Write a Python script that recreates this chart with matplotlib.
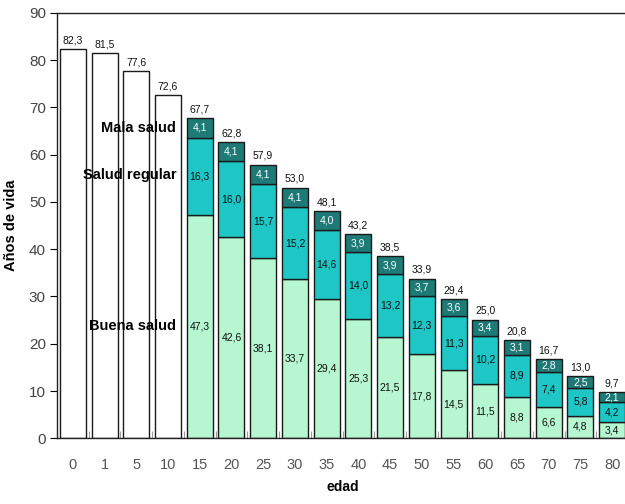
import numpy as np
import matplotlib.pyplot as plt

# edad groups and life expectancy (años de vida)
edades = ["0", "1", "5", "10", "15", "20", "25", "30", "35", "40",
          "45", "50", "55", "60", "65", "70", "75", "80"]
total = [82.3, 81.5, 77.6, 72.6, 67.7, 62.8, 57.9, 53.0, 48.1, 43.2,
         38.5, 33.9, 29.4, 25.0, 20.8, 16.7, 13.0, 9.7]

# breakdown by health state, available from age 15 onwards
buena = [47.3, 42.6, 38.1, 33.7, 29.4, 25.3, 21.5, 17.8, 14.5, 11.5, 8.8, 6.6, 4.8, 3.4]
regular = [16.3, 16.0, 15.7, 15.2, 14.6, 14.0, 13.2, 12.3, 11.3, 10.2, 8.9, 7.4, 5.8, 4.2]
mala = [4.1, 4.1, 4.1, 4.1, 4.0, 3.9, 3.9, 3.7, 3.6, 3.4, 3.1, 2.8, 2.5, 2.1]

C_BUENA = "#b6f6d0"
C_REGULAR = "#1ec6c6"
C_MALA = "#1d7a77"
EDGE = "#1a1a1a"
FONT = ["Liberation Sans", "DejaVu Sans"]


def fmt(v: float) -> str:
    return f"{v:.1f}".replace(".", ",")


fig = plt.figure(figsize=(6.25, 5.04), dpi=100)
ax = fig.add_axes([57 / 625, 65.7 / 504, 571 / 625, 425.5 / 504])

x = np.arange(len(edades))
w = 0.82
n_white = len(edades) - len(buena)

# white bars for the first ages (no breakdown)
ax.bar(x[:n_white], total[:n_white], width=w, color="white", edgecolor=EDGE, linewidth=1.0)

xs = x[n_white:]
b = np.array(buena)
r = np.array(regular)
m = np.array(mala)
ax.bar(xs, b, width=w, color=C_BUENA, edgecolor=EDGE, linewidth=1.0)
ax.bar(xs, r, width=w, bottom=b, color=C_REGULAR, edgecolor=EDGE, linewidth=1.0)
ax.bar(xs, m, width=w, bottom=b + r, color=C_MALA, edgecolor=EDGE, linewidth=1.0)

# totals above each bar
for xi, t, top in zip(x, total, list(total[:n_white]) + list(b + r + m)):
    ax.text(xi, top + 0.8, fmt(t), ha="center", va="bottom", fontsize=7.5,
            family=FONT, color="#111111")

# segment values
for xi, bv, rv, mv in zip(xs, b, r, m):
    ax.text(xi, bv / 2, fmt(bv), ha="center", va="center", fontsize=7.5, family=FONT, color="#111111")
    ax.text(xi, bv + rv / 2, fmt(rv), ha="center", va="center", fontsize=7.5, family=FONT, color="#111111")
    ax.text(xi, bv + rv + mv / 2, fmt(mv), ha="center", va="center", fontsize=7.5, family=FONT, color="white")

# series names to the left of the first stacked bar
lx = xs[0] - 0.74
ax.text(lx, b[0] + r[0] + m[0] / 2, "Mala salud", ha="right", va="center", fontsize=10.5,
        fontweight="bold", family=FONT)
ax.text(lx, b[0] + r[0] / 2 + 0.3, "Salud regular", ha="right", va="center", fontsize=10.5,
        fontweight="bold", family=FONT)
ax.text(lx, b[0] / 2, "Buena salud", ha="right", va="center", fontsize=10.5,
        fontweight="bold", family=FONT)

ax.set_xlim(-0.5, len(edades) - 0.5)
ax.set_ylim(0, 90)
ax.set_yticks(np.arange(0, 91, 10))
ax.set_xticks(x)
ax.set_xticklabels(edades, family=FONT, fontsize=10.5, color="#555555")
ax.tick_params(axis="x", length=0, pad=14)
ax.set_xticks(x[:-1] + 0.5, minor=True)
ax.tick_params(axis="x", which="minor", direction="in", length=5, color="#888888")
ax.tick_params(axis="y", length=5, pad=3, labelsize=11, labelcolor="#444444")
for lab in ax.get_yticklabels():
    lab.set_family(FONT)

ax.spines["right"].set_visible(False)
for s in ("left", "bottom", "top"):
    ax.spines[s].set_color("#222222")
    ax.spines[s].set_linewidth(1.0)

ax.set_ylabel("Años de vida", fontsize=10.5, fontweight="bold", family=FONT)
ax.yaxis.set_label_coords(-0.068, 0.5)
ax.set_xlabel("edad", fontsize=10, fontweight="bold", family=FONT, labelpad=6)

fig.savefig("out.png", dpi=100)
